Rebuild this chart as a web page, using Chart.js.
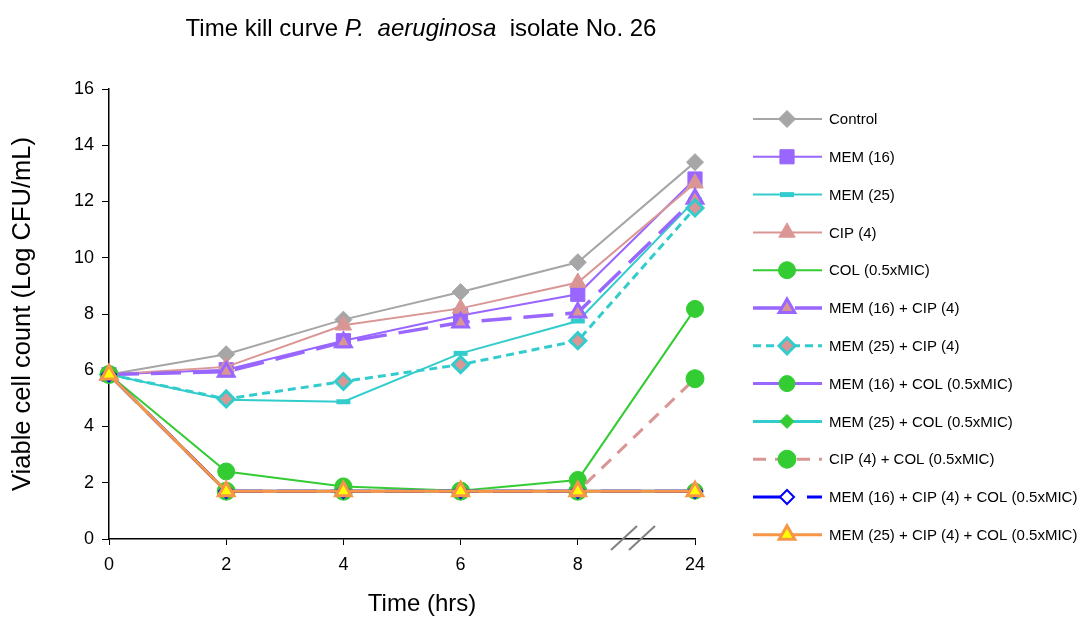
<!DOCTYPE html>
<html>
<head>
<meta charset="utf-8">
<script src="https://cdn.jsdelivr.net/npm/chart.js@4/dist/chart.umd.min.js"></script>
<style>
  html, body { margin: 0; padding: 0; background: #fff; }
  #wrap { width: 1084px; height: 618px; }
</style>
</head>
<body>
<div id="wrap"><canvas id="chart" width="1084" height="618"></canvas></div>
<script>
// time points (hrs)
var timeLabels = ['0', '2', '4', '6', '8', '24'];

// viable cell count, Log CFU/mL
var control     = [5.85, 6.57, 7.80, 8.78, 9.84, 13.40];
var mem16       = [5.85, 6.02, 7.05, 7.95, 8.70, 12.80];
var mem25       = [5.85, 4.95, 4.88, 6.60, 7.75, 12.05];
var cip4        = [5.85, 6.12, 7.60, 8.20, 9.12, 12.65];
var col         = [5.85, 2.40, 1.87, 1.72, 2.10, 8.18];
var mem16Cip    = [5.85, 5.95, 7.00, 7.70, 8.05, 12.10];
var mem25Cip    = [5.85, 4.98, 5.60, 6.20, 7.05, 11.77];
var mem16Col    = [5.85, 1.70, 1.70, 1.70, 1.70, 1.70];
var mem25Col    = [5.85, 1.70, 1.70, 1.70, 1.70, 1.70];
var cipCol      = [5.85, 1.70, 1.70, 1.70, 1.70, 5.70];
var mem16CipCol = [5.85, 1.70, 1.70, 1.70, 1.70, 1.70];
var mem25CipCol = [5.85, 1.70, 1.70, 1.70, 1.70, 1.70];

var yTicks = [0, 2, 4, 6, 8, 10, 12, 14, 16];

var GRAY = '#a6a6a6', PURPLE = '#9966ff', CYAN = '#33cccc', PINK = '#da9694',
    GREEN = '#33cc33', BLUE = '#0000ff', ORANGE = '#f79646', YELLOW = '#ffff00';

function series(label, data, line, width, dash, style, radius, fill, border, bw) {
  return {
    label: label, data: data,
    borderColor: line, borderWidth: width, borderDash: dash,
    pointStyle: style, pointRadius: radius,
    pointBackgroundColor: fill, pointBorderColor: border, pointBorderWidth: bw,
    fill: false, tension: 0
  };
}

var datasets = [
  series('Control', control, GRAY, 2, [], 'rectRot', 8.5, GRAY, GRAY, 1),
  series('MEM (16)', mem16, PURPLE, 2, [], 'rect', 10, PURPLE, PURPLE, 1),
  series('MEM (25)', mem25, CYAN, 2, [], 'line', 7, CYAN, CYAN, 5),
  series('CIP (4)', cip4, PINK, 2, [], 'triangle', 9.5, PINK, PINK, 1),
  series('COL (0.5xMIC)', col, GREEN, 2, [], 'circle', 8.5, GREEN, GREEN, 1),
  series('MEM (16) + CIP (4)', mem16Cip, PURPLE, 3.5, [30, 12], 'triangle', 9, PINK, PURPLE, 3),
  series('MEM (25) + CIP (4)', mem25Cip, CYAN, 3, [8, 5], 'rectRot', 8, PINK, CYAN, 3),
  series('MEM (16) + COL (0.5xMIC)', mem16Col, PURPLE, 3, [], 'circle', 8, GREEN, GREEN, 1),
  series('MEM (25) + COL (0.5xMIC)', mem25Col, CYAN, 3, [], 'rectRot', 7, GREEN, GREEN, 1),
  series('CIP (4) + COL (0.5xMIC)', cipCol, PINK, 3, [13, 9], 'circle', 9, GREEN, GREEN, 1),
  series('MEM (16) + CIP (4) + COL (0.5xMIC)', mem16CipCol, BLUE, 3, [40, 14], 'rectRot', 7, '#ffffff', BLUE, 2),
  series('MEM (25) + CIP (4) + COL (0.5xMIC)', mem25CipCol, ORANGE, 3, [], 'triangle', 9, YELLOW, ORANGE, 3)
];
// later series drawn on top, as in the original
datasets.forEach(function (d, i) { d.order = datasets.length - i; });

var FONT = '"Liberation Sans", Arial, sans-serif';

function marker(ctx, d, x, y) {
  ctx.save();
  ctx.fillStyle = d.pointBackgroundColor;
  ctx.strokeStyle = d.pointBorderColor;
  ctx.lineWidth = d.pointBorderWidth;
  ctx.setLineDash([]);
  if (Chart.helpers && Chart.helpers.drawPoint) {
    Chart.helpers.drawPoint(ctx, { pointStyle: d.pointStyle, radius: d.pointRadius, borderWidth: d.pointBorderWidth, rotation: 0 }, x, y);
  }
  ctx.restore();
}

var extras = {
  id: 'extras',
  afterDraw: function (chart) {
    var ctx = chart.ctx;
    // title with italic species name
    var parts = [
      { t: 'Time kill curve ', f: '24px ' + FONT },
      { t: 'P.  aeruginosa', f: 'italic 24px ' + FONT },
      { t: '  isolate No. 26', f: '24px ' + FONT }
    ];
    ctx.save();
    ctx.fillStyle = '#000';
    ctx.textBaseline = 'alphabetic';
    var total = 0;
    parts.forEach(function (p) { ctx.font = p.f; p.w = ctx.measureText(p.t).width; total += p.w; });
    var x = 421 - total / 2;
    parts.forEach(function (p) { ctx.font = p.f; ctx.fillText(p.t, x, 36); x += p.w; });

    // x axis title (sits right of the plot centre in the original)
    ctx.font = '24px ' + FONT;
    ctx.textAlign = 'center';
    ctx.textBaseline = 'middle';
    ctx.fillText('Time (hrs)', 422, 604);
    ctx.restore();

    // axis break marks between 8 and 24
    ctx.save();
    ctx.strokeStyle = '#808080';
    ctx.lineWidth = 2;
    var yb = chart.scales.y.getPixelForValue(0);
    [[611, 629], [629, 647]].forEach(function (p) {
      ctx.beginPath();
      ctx.moveTo(p[0], yb + 11);
      ctx.lineTo(p[0] + 26, yb - 13);
      ctx.stroke();
    });
    ctx.restore();

    // legend: line sample + marker + label
    ctx.save();
    chart.data.datasets.forEach(function (d, i) {
      var ly = 119 + i * 37.8;
      ctx.strokeStyle = d.borderColor;
      ctx.lineWidth = d.borderWidth;
      ctx.setLineDash(d.borderDash || []);
      ctx.beginPath();
      ctx.moveTo(753, ly);
      ctx.lineTo(822, ly);
      ctx.stroke();
      marker(ctx, d, 787, ly);
      ctx.setLineDash([]);
      ctx.fillStyle = '#000';
      ctx.font = '15px ' + FONT;
      ctx.textBaseline = 'middle';
      ctx.fillText(d.label, 829, ly + 1);
    });
    ctx.restore();
  }
};

new Chart(document.getElementById('chart'), {
  type: 'line',
  data: { labels: timeLabels, datasets: datasets },
  plugins: [extras],
  options: {
    responsive: false,
    animation: false,
    events: [],
    layout: { padding: { top: 89, right: 389, left: 0, bottom: 0 } },
    plugins: { legend: { display: false }, title: { display: false }, tooltip: { enabled: false } },
    scales: {
      x: {
        type: 'category',
        offset: false,
        grid: { display: true, drawOnChartArea: false, drawTicks: true, tickLength: 6, color: '#000' },
        border: { display: true, color: '#000', width: 1.5 },
        ticks: { color: '#000', font: { family: FONT, size: 18 }, padding: 9, maxRotation: 0 },
        title: { display: false },
        afterFit: function (s) { s.height = 618 - 539; }
      },
      y: {
        min: 0, max: 16,
        afterBuildTicks: function (s) { s.ticks = yTicks.map(function (v) { return { value: v }; }); },
        grid: { display: true, drawOnChartArea: false, drawTicks: true, tickLength: 7, color: '#000' },
        border: { display: true, color: '#000', width: 1.5 },
        ticks: { color: '#000', font: { family: FONT, size: 18 }, padding: 8 },
        title: { display: true, text: 'Viable cell count (Log CFU/mL)', color: '#000', font: { family: FONT, size: 25.5 }, padding: { top: 8, bottom: 0 } },
        afterFit: function (s) { s.width = 109; }
      }
    }
  }
});
</script>
</body>
</html>
